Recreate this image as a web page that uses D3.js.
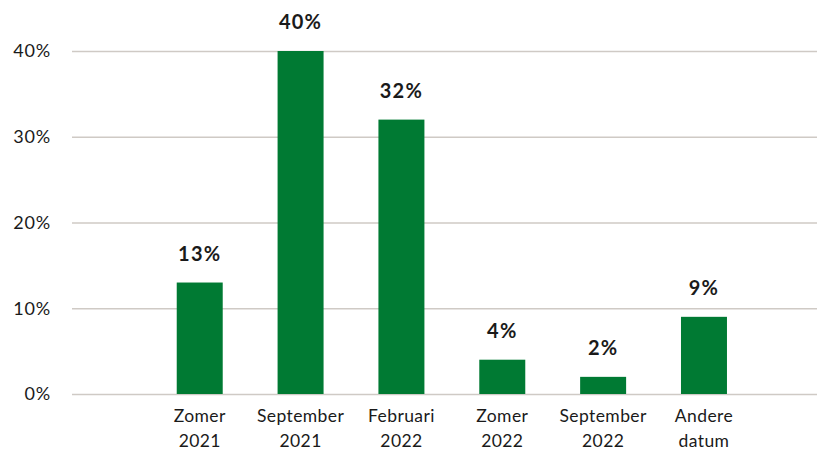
<!DOCTYPE html>
<html>
<head>
<meta charset="utf-8">
<script src="https://cdn.jsdelivr.net/npm/d3@7"></script>
<style>
  body { margin: 0; background: #fff; }
  svg text { font-family: Lato, "Open Sans", sans-serif; fill: #1a1a1a; }
  .tick text { font-size: 18px; letter-spacing: 0.8px; }
  .valueLabel { font-size: 20px; font-weight: bold; letter-spacing: 1.2px; }
  .catLabel { font-size: 17.5px; letter-spacing: 0.4px; }
</style>
</head>
<body>
<div id="chart"></div>
<script>
// chart data
const categories = [["Zomer", "2021"], ["September", "2021"], ["Februari", "2022"],
                    ["Zomer", "2022"], ["September", "2022"], ["Andere", "datum"]];
const values = [13, 40, 32, 4, 2, 9];
const yTicks = [0, 10, 20, 30, 40];

const width = 819, height = 450;
const gridLeft = 72, gridRight = 817;
const yBottom = 394, yTop = 51;

let svg = d3.select("#chart").append("svg")
    .attr("width", width)
    .attr("height", height);

let keys = categories.map(c => c.join(" "));

let x = d3.scaleBand()
    .domain(keys)
    .range([149.3, 754.4])
    .paddingInner(0.544)
    .paddingOuter(0.272);

let y = d3.scaleLinear()
    .domain([0, 40])
    .range([yBottom, yTop]);

// gridlines + tick labels
let yAxis = svg.append("g")
    .attr("transform", "translate(" + gridLeft + ",0)")
    .call(d3.axisLeft(y)
        .tickValues(yTicks)
        .tickSize(-(gridRight - gridLeft))
        .tickPadding(21)
        .tickFormat(d => d + "%"));
yAxis.select(".domain").remove();
yAxis.selectAll(".tick line").attr("stroke", "#cfcac5").attr("stroke-width", 1.3);
yAxis.selectAll(".tick text").attr("fill", "#1a1a1a");

// bars
svg.selectAll("rect.bar")
    .data(values)
    .enter()
    .append("rect")
    .attr("class", "bar")
    .attr("x", (d, i) => x(keys[i]))
    .attr("y", d => y(d))
    .attr("width", x.bandwidth())
    .attr("height", d => y(0) - y(d))
    .attr("fill", "#007a33");

// value labels
svg.selectAll("text.valueLabel")
    .data(values)
    .enter()
    .append("text")
    .attr("class", "valueLabel")
    .attr("x", (d, i) => x(keys[i]) + x.bandwidth() / 2)
    .attr("y", d => y(d) - 22)
    .attr("text-anchor", "middle")
    .text(d => d + "%");

// category labels on two lines
let cat = svg.selectAll("text.catLabel")
    .data(categories)
    .enter()
    .append("text")
    .attr("class", "catLabel")
    .attr("text-anchor", "middle")
    .attr("transform", (d, i) => "translate(" + (x(keys[i]) + x.bandwidth() / 2) + ",422)");
cat.append("tspan").attr("x", 0).attr("y", 0).text(d => d[0]);
cat.append("tspan").attr("x", 0).attr("y", 25).text(d => d[1]);
</script>
</body>
</html>
